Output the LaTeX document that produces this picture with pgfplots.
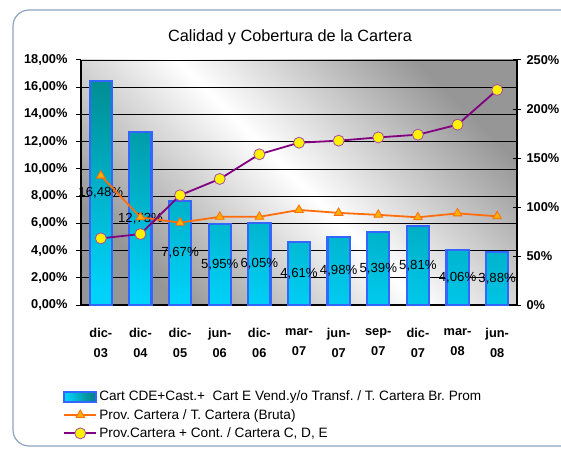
\documentclass[border=0pt]{standalone}
\usepackage{pgfplots}
\pgfplotsset{compat=1.18}
\usepackage{fontspec}
\setmainfont{Liberation Sans}
\frenchspacing
\definecolor{framec}{RGB}{142,163,196}
\definecolor{barblue}{RGB}{51,102,255}
\definecolor{barteal}{RGB}{0,128,128}
\definecolor{barcyan}{RGB}{0,210,250}
\definecolor{orgline}{RGB}{255,110,10}
\definecolor{orgfill}{RGB}{255,175,0}
\definecolor{purp}{RGB}{128,0,128}
\definecolor{bggray}{RGB}{150,150,150}
\begin{document}
\begin{tikzpicture}
\useasboundingbox (0,0) rectangle (561pt,450pt);
\draw[framec, line width=1.2pt, rounded corners=16pt] (13pt,4pt) rectangle (640pt,440pt);
\node[font=\fontsize{16.3}{19}\selectfont] at (290pt,413pt) {Calidad y Cobertura de la Cartera};
\begin{axis}[
  at={(81pt,145pt)}, anchor=south west, scale only axis,
  width=436pt, height=245pt,
  xmin=-0.5, xmax=10.5, ymin=0, ymax=18,
  axis x line*=bottom, axis y line*=left,
  axis line style={-, black, line width=1.2pt},
  axis background/.style={top color=bggray, bottom color=bggray, middle color=white, shading angle=-45},
  ymajorgrids, grid style={black, line width=0.7pt},
  ytick={0,2,...,18},
  yticklabels={{0,00\%},{2,00\%},{4,00\%},{6,00\%},{8,00\%},{10,00\%},{12,00\%},{14,00\%},{16,00\%},{18,00\%}},
  xtick={0,...,10},
  xticklabels={{dic-\\03},{dic-\\04},{dic-\\05},{jun-\\06},{dic-\\06},{mar-\\07},{jun-\\07},{sep-\\07},{dic-\\07},{mar-\\08},{jun-\\08}},
  x tick style={draw=none},
  extra x ticks={-0.5,0.5,...,10.5},
  extra x tick labels={},
  extra x tick style={tick style={draw=black, line width=1pt}, major tick length=5pt, tick align=outside},
  y tick style={black, line width=1pt}, major tick length=5pt, tick align=outside,
  tick label style={font=\bfseries\fontsize{12.8}{20}\selectfont},
  yticklabel style={xshift=-5pt},
  xticklabel style={align=center, yshift=-15pt},
  clip=false,
]
\addplot[ybar, bar width=0.56, draw=barblue, line width=2.2pt, top color=barteal, bottom color=barcyan, shading angle=-8]
 coordinates {(0,16.48) (1,12.73) (2,7.67) (3,5.95) (4,6.05) (5,4.61) (6,4.98) (7,5.39) (8,5.81) (9,4.06) (10,3.88)};
\addplot[draw=none, mark=none, nodes near coords, point meta=explicit symbolic,
  every node near coord/.style={anchor=center, font=\fontsize{13.2}{15}\selectfont, text=black}]
 coordinates {(0,8.24) [16,48\%] (1,6.365) [12,73\%] (2,3.835) [7,67\%] (3,2.975) [5,95\%] (4,3.025) [6,05\%]
  (5,2.305) [4,61\%] (6,2.49) [4,98\%] (7,2.695) [5,39\%] (8,2.905) [5,81\%] (9,2.03) [4,06\%] (10,1.94) [3,88\%]};
\end{axis}
\begin{axis}[
  at={(81pt,145pt)}, anchor=south west, scale only axis,
  width=436pt, height=245pt,
  xmin=-0.5, xmax=10.5, ymin=0, ymax=250,
  axis x line=none, axis y line*=right,
  axis line style={-, black, line width=1.2pt},
  ytick={0,50,...,250},
  yticklabels={0\%,50\%,100\%,150\%,200\%,250\%},
  y tick style={black, line width=1pt}, major tick length=8pt, tick align=center,
  tick label style={font=\bfseries\fontsize{12.8}{15}\selectfont},
  yticklabel style={xshift=2pt},
  legend image code/.code={\draw[mark repeat=2,mark phase=2,#1] plot coordinates {(0pt,0pt) (16pt,0pt) (32pt,0pt)};},
  legend style={draw=none, fill=none, at={(-0.041,-0.342)}, anchor=north west, inner sep=0pt,
    font=\fontsize{13.6}{14.5}\selectfont, row sep=3pt},
  legend cell align=left,
]
\addlegendimage{legend image code/.code={\draw[draw=barblue, line width=2pt, top color=barteal, bottom color=barcyan, shading angle=-80] (0pt,-5pt) rectangle (32pt,5pt);}}
\addlegendentry{Cart CDE+Cast.+\ \ Cart E Vend.y/o Transf. / T. Cartera Br. Prom}
\addplot[orgline, line width=1.8pt, mark=triangle*, mark size=5pt, mark options={fill=orgfill, draw=orgline, line width=0.8pt}]
 coordinates {(0,132) (1,89.5) (2,84) (3,90) (4,90) (5,97) (6,94) (7,92) (8,89.5) (9,93.5) (10,90.5)};
\addlegendentry{Prov. Cartera / T. Cartera (Bruta)}
\addplot[purp, line width=1.8pt, mark=*, mark size=5.5pt, mark options={fill=yellow, draw=purp!70, line width=0.8pt}]
 coordinates {(0,68) (1,72.4) (2,112) (3,128.6) (4,153.8) (5,165.6) (6,167.7) (7,171) (8,173.8) (9,184) (10,219.5)};
\addlegendentry{Prov.Cartera + Cont. / Cartera C, D, E}
\end{axis}
\end{tikzpicture}
\end{document}
